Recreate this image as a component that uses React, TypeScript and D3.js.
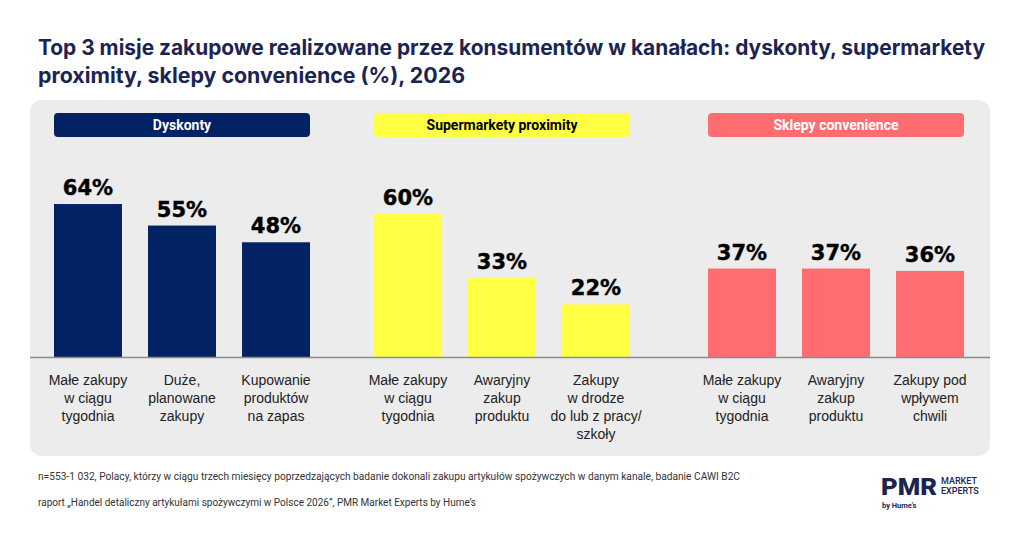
import React from "react";
import * as d3 from "d3";

const channels = ["Dyskonty", "Supermarkety proximity", "Sklepy convenience"];
const channelColors = ["#032263", "#ffff44", "#ff6d70"];
const headerTextColors = ["#ffffff", "#000000", "#ffffff"];

const dyskontyLabels = ["Małe zakupy|w ciągu|tygodnia", "Duże,|planowane|zakupy", "Kupowanie|produktów|na zapas"];
const dyskontyValues = [64, 55, 48];

const proximityLabels = ["Małe zakupy|w ciągu|tygodnia", "Awaryjny|zakup|produktu", "Zakupy|w drodze|do lub z pracy/|szkoły"];
const proximityValues = [60, 33, 22];

const convenienceLabels = ["Małe zakupy|w ciągu|tygodnia", "Awaryjny|zakup|produktu", "Zakupy pod|wpływem|chwili"];
const convenienceValues = [37, 37, 36];

const titleLines = [
  "Top 3 misje zakupowe realizowane przez konsumentów w kanałach: dyskonty, supermarkety",
  "proximity, sklepy convenience (%), 2026",
];
const footnotes = [
  "n=553-1 032, Polacy, którzy w ciągu trzech miesięcy poprzedzających badanie dokonali zakupu artykułów spożywczych w danym kanale, badanie CAWI B2C",
  "raport „Handel detaliczny artykułami spożywczymi w Polsce 2026”, PMR Market Experts by Hume’s",
];

const groups = [
  { labels: dyskontyLabels, values: dyskontyValues },
  { labels: proximityLabels, values: proximityValues },
  { labels: convenienceLabels, values: convenienceValues },
];

const W = 1024;
const H = 537;
const groupStarts = [54, 374, 708];
const groupWidth = 256;
const baseY = 357;

export default function App() {
  const y = d3.scaleLinear().domain([0, 100]).range([baseY, baseY - 239]);
  return (
    <svg width={W} height={H} style={{ position: "absolute", left: 0, top: 0, background: "#fff" }}>
      <rect x={0} y={0} width={W} height={H} fill="#fff" />
      {titleLines.map((t, i) => (
        <text
          key={i}
          x={38}
          y={55 + i * 28}
          fontFamily="Inter, Roboto, sans-serif"
          fontWeight={700}
          fontSize={21}
          fill="#1b2452"
          textLength={i === 0 ? 947 : 427}
          lengthAdjust="spacingAndGlyphs"
        >
          {t}
        </text>
      ))}
      <rect x={30} y={100} width={960} height={356} rx={12} fill="#ececec" />
      {groups.map((g, gi) => {
        const x = d3
          .scaleBand<number>()
          .domain(d3.range(g.values.length))
          .range([groupStarts[gi], groupStarts[gi] + groupWidth])
          .paddingInner(0.277)
          .paddingOuter(0);
        return (
          <g key={gi}>
            <rect x={groupStarts[gi]} y={113} width={groupWidth} height={24} rx={4} fill={channelColors[gi]} />
            <text
              x={groupStarts[gi] + groupWidth / 2}
              y={130}
              textAnchor="middle"
              fontFamily="Roboto, sans-serif"
              fontWeight={700}
              fontSize={14}
              fill={headerTextColors[gi]}
            >
              {channels[gi]}
            </text>
            {g.values.map((v, i) => {
              const bx = x(i)!;
              const cx = bx + x.bandwidth() / 2;
              return (
                <g key={i}>
                  <rect x={bx} y={y(v)} width={x.bandwidth()} height={baseY - y(v)} fill={channelColors[gi]} />
                  <text
                    x={cx}
                    y={y(v) - 9}
                    textAnchor="middle"
                    fontFamily="DejaVu Sans, sans-serif"
                    fontWeight={700}
                    fontSize={21}
                    fill="#000"
                    stroke="#000"
                    strokeWidth={0.4}
                  >
                    {v}%
                  </text>
                  {g.labels[i].split("|").map((line, li) => (
                    <text
                      key={li}
                      x={cx}
                      y={385 + li * 18}
                      textAnchor="middle"
                      fontFamily="Liberation Sans, Arial, sans-serif"
                      fontSize={14}
                      fill="#222"
                    >
                      {line}
                    </text>
                  ))}
                </g>
              );
            })}
          </g>
        );
      })}
      <line x1={30} x2={990} y1={baseY + 0.5} y2={baseY + 0.5} stroke="#8a8a8a" strokeWidth={1.5} />
      {footnotes.map((f, i) => (
        <text
          key={i}
          x={38}
          y={480 + i * 26}
          fontFamily="Roboto, sans-serif"
          fontSize={10}
          fill="#333"
          textLength={i === 0 ? 702 : 438}
          lengthAdjust="spacingAndGlyphs"
        >
          {f}
        </text>
      ))}
      <g>
        <text x={881} y={495} fontFamily="Roboto, sans-serif" fontWeight={900} fontSize={24} fill="#1b2452" textLength={56} lengthAdjust="spacingAndGlyphs">
          PMR
        </text>
        <text x={941} y={484} fontFamily="Roboto, sans-serif" fontWeight={500} fontSize={9} fill="#1b2452">
          MARKET
        </text>
        <text x={941} y={494} fontFamily="Roboto, sans-serif" fontWeight={500} fontSize={9} fill="#1b2452">
          EXPERTS
        </text>
        <text x={882} y={508} fontFamily="Roboto, sans-serif" fontWeight={700} fontSize={7.5} fill="#1b2452">
          by Hume’s
        </text>
      </g>
    </svg>
  );
}
